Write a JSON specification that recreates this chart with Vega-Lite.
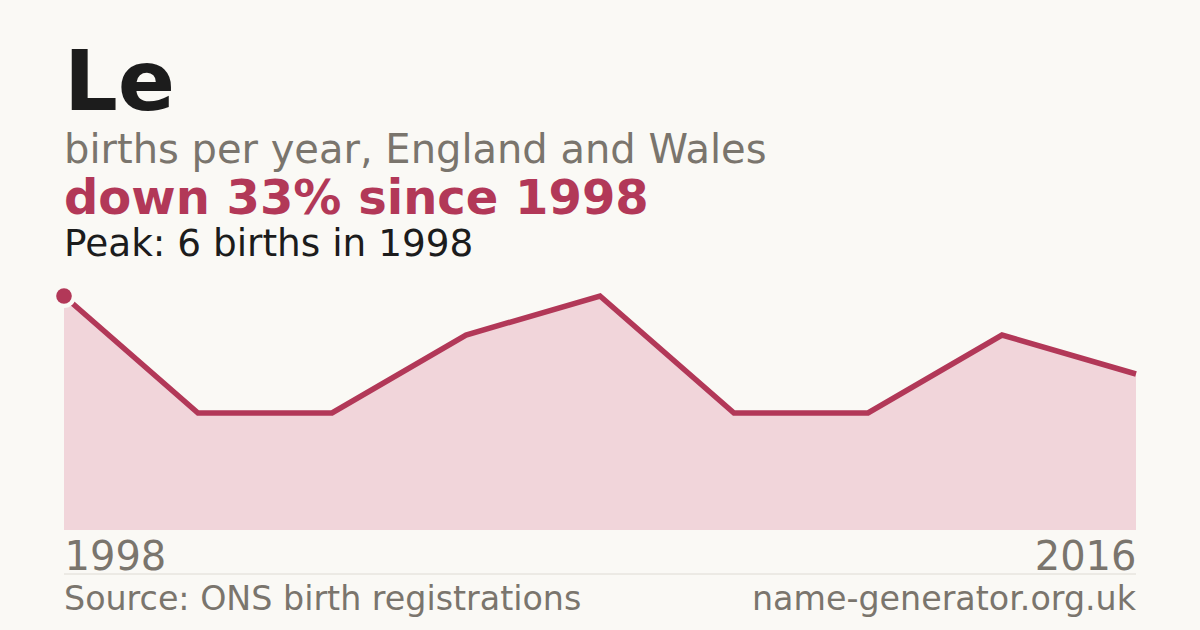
{
  "$schema": "https://vega.github.io/schema/vega-lite/v6.json",
  "background": "#faf9f5",
  "padding": {"left": 52, "right": 59, "top": 42, "bottom": 20},
  "bounds": "flush",
  "spacing": 44,
  "title": {
    "text": "Le",
    "subtitle": "births per year, England and Wales",
    "anchor": "start",
    "dx": 12,
    "font": "DejaVu Sans",
    "fontSize": 84.5,
    "fontWeight": "bold",
    "color": "#1c1c1c",
    "subtitleFont": "DejaVu Sans",
    "subtitleFontSize": 40,
    "subtitleColor": "#7a756d",
    "subtitlePadding": 3,
    "offset": 4
  },
  "vconcat": [
    {
      "title": {
        "text": "down 33% since 1998",
        "subtitle": "Peak: 6 births in 1998",
        "anchor": "start",
        "dx": 12,
        "font": "DejaVu Sans",
        "fontSize": 48,
        "fontWeight": "bold",
        "color": "#b23858",
        "subtitleFont": "DejaVu Sans",
        "subtitleFontSize": 37.4,
        "subtitleColor": "#1c1c1c",
        "subtitlePadding": 2,
        "offset": 21
      },
      "width": 1072,
      "height": 234,
      "data": {
        "values": [
          {"step": 0, "births": 6},
          {"step": 1, "births": 3},
          {"step": 2, "births": 3},
          {"step": 3, "births": 5},
          {"step": 4, "births": 6},
          {"step": 5, "births": 3},
          {"step": 6, "births": 3},
          {"step": 7, "births": 5},
          {"step": 8, "births": 4}
        ]
      },
      "encoding": {
        "x": {
          "field": "step",
          "type": "quantitative",
          "scale": {"domain": [0, 8], "nice": false},
          "axis": {
            "values": [0, 8],
            "labelExpr": "datum.value == 0 ? '1998' : '2016'",
            "labelFlush": true,
            "domain": false,
            "ticks": false,
            "grid": false,
            "title": null,
            "labelFont": "DejaVu Sans",
            "labelFontSize": 40,
            "labelColor": "#7a756d",
            "labelPadding": 7
          }
        },
        "y": {
          "field": "births",
          "type": "quantitative",
          "scale": {"domain": [0, 6], "nice": false},
          "axis": null
        }
      },
      "layer": [
        {"mark": {"type": "area", "color": "#f1d5da"}},
        {"mark": {"type": "line", "color": "#b23858", "strokeWidth": 5.5}},
        {
          "transform": [{"filter": "datum.step == 0"}],
          "mark": {"type": "point", "filled": true, "shape": "circle", "color": "#faf9f5", "size": 576, "opacity": 1}
        },
        {
          "transform": [{"filter": "datum.step == 0"}],
          "mark": {"type": "point", "filled": true, "shape": "circle", "color": "#b23858", "size": 243, "opacity": 1}
        }
      ]
    },
    {
      "width": 1072,
      "height": 36,
      "data": {"values": [{}]},
      "layer": [
        {
          "mark": {"type": "rule", "color": "#dedbd4", "strokeWidth": 1},
          "encoding": {
            "x": {"datum": 0, "type": "quantitative", "scale": {"domain": [0, 1]}, "axis": null},
            "x2": {"datum": 1},
            "y": {"datum": 1, "type": "quantitative", "scale": {"domain": [0, 1]}, "axis": null}
          }
        },
        {
          "mark": {"type": "text", "align": "left", "baseline": "alphabetic", "font": "DejaVu Sans", "fontSize": 33.3, "color": "#7a756d"},
          "encoding": {
            "x": {"datum": 0, "type": "quantitative", "scale": {"domain": [0, 1]}, "axis": null},
            "y": {"datum": 0, "type": "quantitative", "scale": {"domain": [0, 1]}, "axis": null},
            "text": {"value": "Source: ONS birth registrations"}
          }
        },
        {
          "mark": {"type": "text", "align": "right", "baseline": "alphabetic", "font": "DejaVu Sans", "fontSize": 33.3, "color": "#7a756d"},
          "encoding": {
            "x": {"datum": 1, "type": "quantitative", "scale": {"domain": [0, 1]}, "axis": null},
            "y": {"datum": 0, "type": "quantitative", "scale": {"domain": [0, 1]}, "axis": null},
            "text": {"value": "name-generator.org.uk"}
          }
        }
      ]
    }
  ],
  "config": {
    "view": {"stroke": null},
    "font": "DejaVu Sans"
  }
}
